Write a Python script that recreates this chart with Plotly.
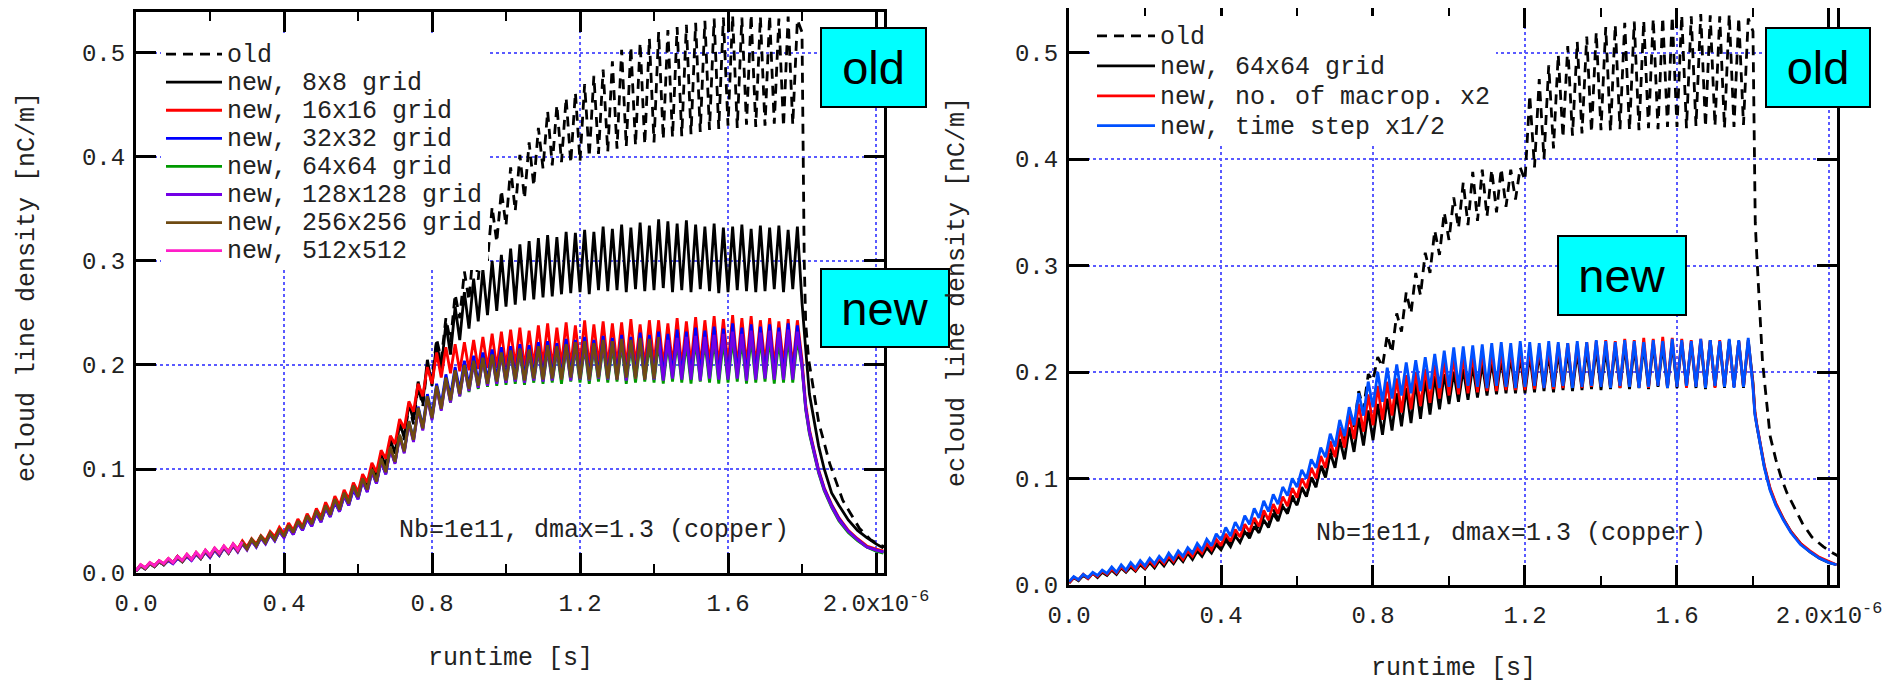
import plotly.graph_objects as go

# ---------------- data ----------------
BUNCH_SPACING_US = 0.025   # 25 ns bunch spacing, values are per bunch (72 bunches)
HALF_US = 0.0125

# tail after the bunch train (time in microseconds)
TAIL_T = [1.80, 1.805, 1.81, 1.82, 1.83, 1.845, 1.86, 1.88, 1.90, 1.925, 1.95, 1.975, 2.0, 2.02]
OLD_TAIL_T = [1.80, 1.803, 1.806, 1.81, 1.818, 1.825, 1.835, 1.845, 1.86, 1.875, 1.89, 1.91, 1.93, 1.955, 1.985, 2.01, 2.025]

# ----- left panel -----
L_old_lo = [0.002, 0.005, 0.007, 0.008, 0.010, 0.011, 0.013, 0.014, 0.016, 0.018, 0.020, 0.022,
            0.024, 0.027, 0.030, 0.033, 0.036, 0.039, 0.043, 0.047, 0.052, 0.057, 0.062, 0.068,
            0.075, 0.083, 0.092, 0.103, 0.115, 0.128, 0.143, 0.160, 0.185, 0.205, 0.222, 0.245,
            0.262, 0.282, 0.300, 0.318, 0.334, 0.348, 0.360, 0.372, 0.389, 0.392, 0.395, 0.394,
            0.396, 0.400, 0.403, 0.405, 0.408, 0.410, 0.411, 0.412, 0.414, 0.417, 0.419, 0.420,
            0.422, 0.424, 0.426, 0.427, 0.430, 0.428, 0.431, 0.429, 0.430, 0.432, 0.429, 0.431]
L_old_hi = [0.007, 0.009, 0.011, 0.013, 0.016, 0.017, 0.019, 0.021, 0.023, 0.025, 0.027, 0.030,
            0.032, 0.035, 0.038, 0.042, 0.046, 0.050, 0.055, 0.060, 0.065, 0.071, 0.077, 0.084,
            0.092, 0.102, 0.113, 0.128, 0.145, 0.162, 0.180, 0.200, 0.225, 0.245, 0.268, 0.290,
            0.315, 0.335, 0.352, 0.368, 0.390, 0.402, 0.414, 0.428, 0.444, 0.450, 0.457, 0.462,
            0.470, 0.478, 0.484, 0.492, 0.503, 0.506, 0.510, 0.514, 0.520, 0.522, 0.525, 0.527,
            0.529, 0.531, 0.533, 0.534, 0.536, 0.534, 0.537, 0.535, 0.536, 0.533, 0.535, 0.532]
L_old_tail = [0.52, 0.40, 0.30, 0.24, 0.205, 0.19, 0.165, 0.145, 0.125, 0.105, 0.09, 0.07,
              0.058, 0.043, 0.032, 0.027, 0.025]

L8_lo = [0.002, 0.005, 0.007, 0.008, 0.010, 0.011, 0.013, 0.014, 0.016, 0.018, 0.020, 0.022,
         0.024, 0.027, 0.030, 0.033, 0.036, 0.039, 0.043, 0.047, 0.052, 0.057, 0.062, 0.068,
         0.075, 0.083, 0.092, 0.103, 0.115, 0.130, 0.147, 0.164, 0.180, 0.196, 0.210, 0.224,
         0.235, 0.242, 0.248, 0.252, 0.256, 0.258, 0.262, 0.263, 0.265, 0.266, 0.268, 0.269,
         0.270, 0.268, 0.272, 0.271, 0.272, 0.270, 0.273, 0.271, 0.272, 0.274, 0.270, 0.272,
         0.270, 0.273, 0.271, 0.269, 0.270, 0.272, 0.271, 0.270, 0.271, 0.273, 0.270, 0.273]
L8_hi = [0.007, 0.009, 0.011, 0.013, 0.016, 0.017, 0.019, 0.021, 0.023, 0.025, 0.027, 0.030,
         0.032, 0.035, 0.038, 0.042, 0.046, 0.050, 0.055, 0.060, 0.065, 0.071, 0.077, 0.084,
         0.092, 0.102, 0.113, 0.128, 0.145, 0.163, 0.184, 0.205, 0.222, 0.240, 0.256, 0.270,
         0.283, 0.292, 0.300, 0.306, 0.312, 0.316, 0.319, 0.322, 0.325, 0.323, 0.328, 0.327,
         0.330, 0.328, 0.333, 0.331, 0.335, 0.332, 0.337, 0.334, 0.340, 0.338, 0.336, 0.339,
         0.335, 0.333, 0.336, 0.332, 0.333, 0.335, 0.331, 0.334, 0.332, 0.334, 0.330, 0.333]
L8_tail = [0.260, 0.235, 0.215, 0.172, 0.152, 0.122, 0.100, 0.077, 0.065, 0.051, 0.041, 0.034, 0.028, 0.024]

L16_lo = [0.002, 0.005, 0.007, 0.009, 0.010, 0.012, 0.013, 0.015, 0.017, 0.019, 0.021, 0.023,
          0.025, 0.028, 0.031, 0.035, 0.038, 0.041, 0.045, 0.049, 0.054, 0.059, 0.065, 0.071,
          0.078, 0.087, 0.097, 0.110, 0.124, 0.139, 0.155, 0.170, 0.182, 0.188, 0.192, 0.194,
          0.195, 0.196, 0.197, 0.197, 0.198, 0.199, 0.197, 0.199, 0.200, 0.198, 0.200, 0.199,
          0.200, 0.198, 0.201, 0.199, 0.200, 0.198, 0.200, 0.199, 0.201, 0.199, 0.200, 0.198,
          0.200, 0.199, 0.201, 0.199, 0.200, 0.198, 0.200, 0.199, 0.201, 0.199, 0.200, 0.198]
L16_hi = [0.008, 0.010, 0.012, 0.014, 0.016, 0.018, 0.020, 0.022, 0.024, 0.026, 0.028, 0.031,
          0.033, 0.036, 0.040, 0.044, 0.048, 0.052, 0.057, 0.062, 0.068, 0.074, 0.080, 0.087,
          0.095, 0.106, 0.118, 0.132, 0.148, 0.165, 0.182, 0.198, 0.212, 0.217, 0.220, 0.222,
          0.224, 0.227, 0.230, 0.232, 0.234, 0.236, 0.233, 0.238, 0.240, 0.236, 0.241, 0.238,
          0.243, 0.239, 0.242, 0.240, 0.241, 0.244, 0.239, 0.243, 0.243, 0.240, 0.245, 0.242,
          0.246, 0.243, 0.247, 0.244, 0.248, 0.245, 0.247, 0.243, 0.245, 0.242, 0.244, 0.243]
L16_tail = [0.205, 0.180, 0.162, 0.138, 0.122, 0.099, 0.082, 0.066, 0.053, 0.041, 0.033, 0.026, 0.023, 0.021]

L32_lo = [0.002, 0.004, 0.006, 0.008, 0.009, 0.011, 0.012, 0.014, 0.015, 0.017, 0.019, 0.021,
          0.023, 0.025, 0.028, 0.031, 0.034, 0.037, 0.041, 0.045, 0.049, 0.054, 0.059, 0.065,
          0.071, 0.078, 0.086, 0.095, 0.106, 0.117, 0.129, 0.141, 0.152, 0.162, 0.170, 0.176,
          0.180, 0.183, 0.185, 0.187, 0.188, 0.189, 0.188, 0.190, 0.189, 0.190, 0.189, 0.191,
          0.190, 0.189, 0.191, 0.190, 0.191, 0.189, 0.190, 0.191, 0.190, 0.189, 0.191, 0.190,
          0.189, 0.191, 0.190, 0.189, 0.190, 0.191, 0.189, 0.190, 0.191, 0.189, 0.190, 0.190]
L32_hi = [0.007, 0.009, 0.011, 0.012, 0.014, 0.016, 0.018, 0.020, 0.022, 0.024, 0.026, 0.028,
          0.031, 0.034, 0.037, 0.040, 0.044, 0.048, 0.052, 0.057, 0.062, 0.068, 0.074, 0.080,
          0.088, 0.097, 0.107, 0.119, 0.132, 0.146, 0.160, 0.172, 0.182, 0.191, 0.198, 0.204,
          0.209, 0.212, 0.215, 0.217, 0.218, 0.220, 0.219, 0.222, 0.223, 0.221, 0.225, 0.224,
          0.227, 0.224, 0.228, 0.226, 0.229, 0.227, 0.231, 0.229, 0.232, 0.230, 0.234, 0.232,
          0.236, 0.233, 0.237, 0.235, 0.240, 0.236, 0.239, 0.237, 0.239, 0.236, 0.240, 0.238]
L32_tail = [0.200, 0.177, 0.159, 0.136, 0.121, 0.098, 0.081, 0.065, 0.052, 0.040, 0.032, 0.025, 0.022, 0.020]

L64_lo = [0.002, 0.004, 0.006, 0.008, 0.010, 0.011, 0.013, 0.014, 0.016, 0.017, 0.019, 0.021,
          0.023, 0.026, 0.029, 0.032, 0.035, 0.038, 0.042, 0.046, 0.050, 0.055, 0.060, 0.066,
          0.072, 0.079, 0.087, 0.096, 0.106, 0.116, 0.127, 0.138, 0.148, 0.157, 0.164, 0.170,
          0.174, 0.177, 0.179, 0.180, 0.181, 0.182, 0.181, 0.183, 0.182, 0.183, 0.182, 0.184,
          0.183, 0.182, 0.184, 0.183, 0.184, 0.182, 0.183, 0.184, 0.183, 0.182, 0.184, 0.183,
          0.182, 0.184, 0.183, 0.182, 0.183, 0.184, 0.182, 0.183, 0.184, 0.182, 0.183, 0.183]
L64_hi = [0.007, 0.009, 0.011, 0.013, 0.015, 0.017, 0.019, 0.021, 0.023, 0.025, 0.027, 0.029,
          0.032, 0.035, 0.038, 0.041, 0.045, 0.049, 0.054, 0.059, 0.064, 0.070, 0.076, 0.083,
          0.090, 0.099, 0.109, 0.120, 0.132, 0.145, 0.158, 0.169, 0.179, 0.187, 0.194, 0.199,
          0.203, 0.206, 0.209, 0.211, 0.212, 0.213, 0.212, 0.214, 0.215, 0.214, 0.216, 0.215,
          0.217, 0.216, 0.218, 0.217, 0.219, 0.218, 0.220, 0.219, 0.221, 0.220, 0.222, 0.221,
          0.223, 0.222, 0.224, 0.223, 0.225, 0.224, 0.226, 0.225, 0.226, 0.224, 0.226, 0.225]
L64_tail = [0.198, 0.174, 0.157, 0.134, 0.118, 0.096, 0.079, 0.063, 0.050, 0.039, 0.031, 0.025, 0.021, 0.019]

L128_lo = [0.002, 0.004, 0.006, 0.008, 0.009, 0.011, 0.012, 0.014, 0.015, 0.017, 0.019, 0.020,
           0.022, 0.025, 0.028, 0.031, 0.034, 0.037, 0.041, 0.045, 0.049, 0.054, 0.059, 0.065,
           0.071, 0.078, 0.086, 0.095, 0.105, 0.115, 0.126, 0.137, 0.147, 0.156, 0.164, 0.170,
           0.175, 0.178, 0.180, 0.182, 0.183, 0.184, 0.183, 0.185, 0.184, 0.185, 0.186, 0.185,
           0.186, 0.185, 0.187, 0.186, 0.186, 0.185, 0.187, 0.186, 0.186, 0.185, 0.187, 0.186,
           0.186, 0.185, 0.187, 0.186, 0.186, 0.187, 0.185, 0.186, 0.187, 0.186, 0.186, 0.186]
L128_hi = [0.007, 0.009, 0.011, 0.012, 0.014, 0.016, 0.018, 0.020, 0.022, 0.024, 0.026, 0.028,
           0.031, 0.034, 0.037, 0.040, 0.044, 0.048, 0.053, 0.058, 0.063, 0.069, 0.075, 0.082,
           0.089, 0.098, 0.108, 0.119, 0.131, 0.144, 0.157, 0.168, 0.178, 0.186, 0.193, 0.198,
           0.202, 0.205, 0.208, 0.210, 0.212, 0.214, 0.213, 0.215, 0.216, 0.215, 0.217, 0.218,
           0.219, 0.218, 0.220, 0.221, 0.222, 0.221, 0.223, 0.224, 0.225, 0.224, 0.226, 0.227,
           0.228, 0.227, 0.229, 0.230, 0.232, 0.230, 0.233, 0.231, 0.233, 0.232, 0.234, 0.232]
L128_tail = [0.198, 0.175, 0.158, 0.135, 0.120, 0.097, 0.080, 0.064, 0.051, 0.040, 0.032, 0.025, 0.022, 0.020]

# 256x256 run stops at ~1.4 us
L256_lo = [0.002, 0.004, 0.006, 0.008, 0.010, 0.011, 0.013, 0.014, 0.016, 0.018, 0.019, 0.021,
           0.023, 0.026, 0.029, 0.032, 0.035, 0.039, 0.043, 0.047, 0.051, 0.056, 0.061, 0.067,
           0.073, 0.080, 0.088, 0.097, 0.107, 0.117, 0.128, 0.139, 0.149, 0.158, 0.166, 0.172,
           0.177, 0.180, 0.182, 0.184, 0.185, 0.186, 0.185, 0.187, 0.186, 0.187, 0.186, 0.188,
           0.187, 0.186, 0.188, 0.187, 0.186, 0.188, 0.187, 0.186, 0.187]
L256_hi = [0.007, 0.009, 0.011, 0.013, 0.015, 0.017, 0.019, 0.021, 0.023, 0.025, 0.027, 0.029,
           0.032, 0.035, 0.038, 0.042, 0.046, 0.050, 0.055, 0.060, 0.065, 0.071, 0.077, 0.084,
           0.091, 0.100, 0.110, 0.121, 0.133, 0.146, 0.159, 0.170, 0.180, 0.188, 0.195, 0.200,
           0.204, 0.207, 0.210, 0.212, 0.214, 0.216, 0.215, 0.218, 0.219, 0.218, 0.220, 0.222,
           0.223, 0.221, 0.224, 0.223, 0.225, 0.224, 0.226, 0.225, 0.227]

# 512x512 run stops at ~0.28 us
L512_lo = [0.002, 0.005, 0.007, 0.009, 0.010, 0.012, 0.013, 0.015, 0.017, 0.019, 0.020, 0.022]
L512_hi = [0.008, 0.010, 0.012, 0.014, 0.016, 0.018, 0.020, 0.022, 0.024, 0.026, 0.028, 0.030]

# ----- right panel -----
R_old_lo = [0.002, 0.005, 0.007, 0.008, 0.010, 0.011, 0.013, 0.014, 0.016, 0.018, 0.020, 0.022,
            0.024, 0.027, 0.030, 0.033, 0.036, 0.039, 0.043, 0.047, 0.052, 0.057, 0.062, 0.068,
            0.075, 0.083, 0.092, 0.103, 0.118, 0.132, 0.148, 0.165, 0.192, 0.205, 0.218, 0.238,
            0.255, 0.272, 0.293, 0.310, 0.324, 0.335, 0.338, 0.342, 0.346, 0.350, 0.355, 0.362,
            0.380, 0.392, 0.400, 0.410, 0.420, 0.422, 0.424, 0.425, 0.427, 0.426, 0.428, 0.427,
            0.427, 0.429, 0.428, 0.430, 0.430, 0.429, 0.431, 0.430, 0.431, 0.429, 0.430, 0.432]
R_old_hi = [0.007, 0.009, 0.011, 0.013, 0.016, 0.017, 0.019, 0.021, 0.023, 0.025, 0.027, 0.030,
            0.032, 0.035, 0.038, 0.042, 0.046, 0.050, 0.055, 0.060, 0.065, 0.071, 0.077, 0.084,
            0.092, 0.102, 0.113, 0.128, 0.148, 0.165, 0.182, 0.198, 0.214, 0.235, 0.255, 0.275,
            0.293, 0.312, 0.333, 0.350, 0.364, 0.378, 0.388, 0.390, 0.390, 0.391, 0.390, 0.392,
            0.460, 0.475, 0.488, 0.498, 0.506, 0.510, 0.515, 0.519, 0.524, 0.526, 0.528, 0.529,
            0.530, 0.532, 0.533, 0.534, 0.535, 0.534, 0.536, 0.535, 0.534, 0.536, 0.533, 0.532]
R_old_tail = [0.52, 0.40, 0.34, 0.31, 0.25, 0.21, 0.175, 0.14, 0.118, 0.10, 0.086, 0.072,
              0.058, 0.045, 0.036, 0.030, 0.027]

R64_lo = [0.002, 0.004, 0.006, 0.007, 0.009, 0.010, 0.012, 0.013, 0.015, 0.016, 0.018, 0.020,
          0.022, 0.024, 0.027, 0.030, 0.033, 0.036, 0.040, 0.044, 0.049, 0.054, 0.060, 0.067,
          0.075, 0.083, 0.092, 0.101, 0.110, 0.118, 0.125, 0.131, 0.136, 0.141, 0.145, 0.149,
          0.152, 0.156, 0.160, 0.165, 0.170, 0.172, 0.174, 0.176, 0.178, 0.179, 0.180, 0.180,
          0.180, 0.181, 0.182, 0.181, 0.183, 0.182, 0.183, 0.184, 0.183, 0.184, 0.185, 0.184,
          0.185, 0.184, 0.186, 0.185, 0.185, 0.186, 0.185, 0.184, 0.186, 0.185, 0.186, 0.185]
R64_hi = [0.007, 0.009, 0.011, 0.012, 0.014, 0.016, 0.017, 0.019, 0.021, 0.023, 0.025, 0.027,
          0.030, 0.032, 0.035, 0.038, 0.042, 0.046, 0.050, 0.055, 0.061, 0.067, 0.074, 0.082,
          0.091, 0.101, 0.112, 0.124, 0.137, 0.148, 0.157, 0.164, 0.170, 0.175, 0.180, 0.185,
          0.190, 0.193, 0.196, 0.198, 0.200, 0.203, 0.206, 0.208, 0.210, 0.212, 0.214, 0.215,
          0.216, 0.218, 0.217, 0.219, 0.220, 0.219, 0.221, 0.222, 0.221, 0.223, 0.224, 0.223,
          0.225, 0.226, 0.225, 0.227, 0.228, 0.227, 0.229, 0.230, 0.228, 0.230, 0.229, 0.230]
R64_tail = [0.190, 0.162, 0.150, 0.131, 0.111, 0.090, 0.076, 0.062, 0.050, 0.039, 0.031, 0.025, 0.021, 0.019]

Rmac_lo = [0.002, 0.005, 0.006, 0.008, 0.010, 0.011, 0.013, 0.014, 0.016, 0.018, 0.020, 0.022,
           0.024, 0.027, 0.030, 0.033, 0.037, 0.041, 0.045, 0.050, 0.055, 0.061, 0.067, 0.074,
           0.082, 0.091, 0.100, 0.110, 0.120, 0.129, 0.137, 0.144, 0.150, 0.155, 0.159, 0.162,
           0.165, 0.168, 0.171, 0.175, 0.178, 0.179, 0.180, 0.181, 0.182, 0.182, 0.183, 0.183,
           0.183, 0.184, 0.185, 0.184, 0.185, 0.186, 0.185, 0.186, 0.187, 0.186, 0.185, 0.187,
           0.186, 0.185, 0.187, 0.186, 0.186, 0.185, 0.187, 0.186, 0.185, 0.187, 0.186, 0.186]
Rmac_hi = [0.007, 0.010, 0.011, 0.013, 0.015, 0.017, 0.019, 0.021, 0.023, 0.025, 0.027, 0.030,
           0.032, 0.035, 0.039, 0.043, 0.048, 0.052, 0.057, 0.063, 0.070, 0.076, 0.083, 0.091,
           0.100, 0.110, 0.121, 0.135, 0.148, 0.160, 0.170, 0.179, 0.187, 0.191, 0.194, 0.197,
           0.200, 0.203, 0.207, 0.210, 0.213, 0.215, 0.216, 0.218, 0.219, 0.220, 0.221, 0.221,
           0.222, 0.224, 0.223, 0.226, 0.227, 0.226, 0.228, 0.229, 0.230, 0.229, 0.231, 0.230,
           0.232, 0.231, 0.233, 0.232, 0.231, 0.230, 0.231, 0.229, 0.230, 0.228, 0.229, 0.228]
Rmac_tail = [0.188, 0.163, 0.151, 0.132, 0.112, 0.091, 0.077, 0.062, 0.050, 0.039, 0.032, 0.026, 0.022, 0.019]

Rts_lo = [0.003, 0.005, 0.007, 0.009, 0.011, 0.012, 0.014, 0.016, 0.018, 0.020, 0.022, 0.024,
          0.027, 0.030, 0.033, 0.037, 0.042, 0.046, 0.051, 0.057, 0.063, 0.069, 0.076, 0.084,
          0.092, 0.100, 0.110, 0.120, 0.130, 0.140, 0.150, 0.159, 0.167, 0.172, 0.175, 0.178,
          0.180, 0.182, 0.184, 0.185, 0.186, 0.185, 0.187, 0.186, 0.185, 0.187, 0.186, 0.185,
          0.186, 0.187, 0.185, 0.186, 0.187, 0.185, 0.186, 0.187, 0.186, 0.185, 0.187, 0.186,
          0.185, 0.186, 0.187, 0.185, 0.186, 0.187, 0.186, 0.185, 0.187, 0.186, 0.185, 0.186]
Rts_hi = [0.008, 0.010, 0.012, 0.014, 0.017, 0.019, 0.021, 0.023, 0.025, 0.027, 0.030, 0.032,
          0.035, 0.039, 0.043, 0.048, 0.054, 0.059, 0.065, 0.072, 0.079, 0.085, 0.092, 0.100,
          0.108, 0.118, 0.129, 0.142, 0.155, 0.167, 0.180, 0.191, 0.200, 0.204, 0.207, 0.209,
          0.211, 0.214, 0.217, 0.220, 0.223, 0.224, 0.225, 0.226, 0.227, 0.228, 0.227, 0.229,
          0.228, 0.227, 0.229, 0.228, 0.227, 0.229, 0.228, 0.230, 0.229, 0.228, 0.230, 0.229,
          0.228, 0.230, 0.229, 0.231, 0.230, 0.229, 0.231, 0.230, 0.229, 0.231, 0.230, 0.232]
Rts_tail = [0.185, 0.160, 0.150, 0.130, 0.110, 0.089, 0.075, 0.061, 0.049, 0.038, 0.031, 0.025, 0.021, 0.019]

X_TICKS_US = [0.0, 0.4, 0.8, 1.2, 1.6, 2.0]
X_TICK_TEXT = ["0.0", "0.4", "0.8", "1.2", "1.6", "2.0x10<sup>-6</sup>"]
Y_TICKS = [0.0, 0.1, 0.2, 0.3, 0.4, 0.5]

# ---------------- helpers ----------------
PAGE_OFF = 8            # default body margin of the written html page
W, H = 1899 - PAGE_OFF, 683 - PAGE_OFF
MONO = "Liberation Mono, Courier New, monospace"
SANS = "Liberation Sans, Arial, sans-serif"


def px_x(p):
    return (p - PAGE_OFF) / W


def px_y(p):
    return 1 - (p - PAGE_OFF) / H


def sawtooth(lo, hi, tail_t=None, tail_v=None):
    assert len(lo) == len(hi), (len(lo), len(hi))
    xs, ys = [], []
    for k, (a, b) in enumerate(zip(lo, hi)):
        t = k * BUNCH_SPACING_US
        xs += [t, t + HALF_US]
        ys += [a, b]
    if tail_t is not None:
        assert len(tail_t) == len(tail_v), (len(tail_t), len(tail_v))
        xs += list(tail_t)
        ys += list(tail_v)
    return [x * 1e-6 for x in xs], ys


def leg(txt):
    return f'<span style="font-size:25px">{txt}</span>'


fig = go.Figure()

left = [
    ("old", L_old_lo, L_old_hi, OLD_TAIL_T, L_old_tail, "black", "dash"),
    ("new, 8x8 grid", L8_lo, L8_hi, TAIL_T, L8_tail, "black", "solid"),
    ("new, 16x16 grid", L16_lo, L16_hi, TAIL_T, L16_tail, "#FF0000", "solid"),
    ("new, 32x32 grid", L32_lo, L32_hi, TAIL_T, L32_tail, "#0000FF", "solid"),
    ("new, 64x64 grid", L64_lo, L64_hi, TAIL_T, L64_tail, "#009900", "solid"),
    ("new, 128x128 grid", L128_lo, L128_hi, TAIL_T, L128_tail, "#7300E6", "solid"),
    ("new, 256x256 grid", L256_lo, L256_hi, None, None, "#6E4A12", "solid"),
    ("new, 512x512", L512_lo, L512_hi, None, None, "#FF1EC8", "solid"),
]
for name, lo, hi, tt, tv, col, dash in left:
    x, y = sawtooth(lo, hi, tt, tv)
    fig.add_trace(go.Scatter(
        x=x, y=y, mode="lines", name=leg(name), line_shape="linear",
        line=dict(color=col, width=2.8, dash="10px,7px" if dash == "dash" else "solid"),
        xaxis="x", yaxis="y", legend="legend"))

right = [
    ("old", R_old_lo, R_old_hi, OLD_TAIL_T, R_old_tail, "black", "dash"),
    ("new, 64x64 grid", R64_lo, R64_hi, TAIL_T, R64_tail, "black", "solid"),
    ("new, no. of macrop. x2", Rmac_lo, Rmac_hi, TAIL_T, Rmac_tail, "#FF0000", "solid"),
    ("new, time step x1/2", Rts_lo, Rts_hi, TAIL_T, Rts_tail, "#0050FF", "solid"),
]
for name, lo, hi, tt, tv, col, dash in right:
    x, y = sawtooth(lo, hi, tt, tv)
    fig.add_trace(go.Scatter(
        x=x, y=y, mode="lines", name=leg(name), line_shape="linear",
        line=dict(color=col, width=2.8, dash="10px,7px" if dash == "dash" else "solid"),
        xaxis="x2", yaxis="y2", legend="legend2"))

GRID = "rgb(90,90,255)"


def xaxis(dom, anchor, rng):
    return dict(
        domain=dom, anchor=anchor, range=rng, automargin=False,
        showline=True, linecolor="black", linewidth=3, mirror="ticks",
        ticks="inside", ticklen=20, tickwidth=3, tickcolor="black",
        tickvals=[v * 1e-6 for v in X_TICKS_US], ticktext=X_TICK_TEXT,
        tickfont=dict(family=MONO, size=24, color="#222"),
        ticklabelstandoff=6,
        showgrid=True, gridcolor=GRID, griddash="dot", gridwidth=2,
        zeroline=False,
        minor=dict(dtick=0.2e-6, tick0=0, ticks="inside", ticklen=9, tickwidth=2,
                   tickcolor="black", showgrid=False),
    )


def yaxis(dom, anchor, rng):
    return dict(
        domain=dom, anchor=anchor, range=rng, automargin=False,
        showline=True, linecolor="black", linewidth=3, mirror="ticks",
        ticks="inside", ticklen=20, tickwidth=3, tickcolor="black",
        tickvals=Y_TICKS, tickformat=".1f",
        tickfont=dict(family=MONO, size=24, color="#222"),
        ticklabelstandoff=3,
        showgrid=True, gridcolor=GRID, griddash="dot", gridwidth=2,
        zeroline=False,
    )


L_X0, L_X1, L_Y0, L_Y1 = 136, 884, 12, 573
R_X0, R_X1, R_Y0, R_Y1 = 1069, 1837, 8, 585

fig.update_layout(
    width=W, height=H, autosize=False,
    margin=dict(l=0, r=0, t=0, b=0, pad=0, autoexpand=False),
    paper_bgcolor="white", plot_bgcolor="white",
    showlegend=True,
    xaxis=xaxis([px_x(L_X0), px_x(L_X1)], "y", [0, 2.0216e-6]),
    yaxis=yaxis([px_y(L_Y1), px_y(L_Y0)], "x", [0, 0.5394]),
    xaxis2=xaxis([px_x(R_X0), px_x(R_X1)], "y2", [0, 2.0211e-6]),
    yaxis2=yaxis([px_y(R_Y1), px_y(R_Y0)], "x2", [0, 0.5418]),
    legend=dict(x=px_x(161), y=px_y(35), xanchor="left", yanchor="top",
                bgcolor="white", borderwidth=0, itemwidth=56,
                font=dict(family=MONO, size=19.3, color="#222"), tracegroupgap=0),
    legend2=dict(x=px_x(1092), y=px_y(16), xanchor="left", yanchor="top",
                 bgcolor="white", borderwidth=0, itemwidth=58,
                 font=dict(family=MONO, size=20.7, color="#222"), tracegroupgap=0),
)

ann = []
# cyan labels
for (cx, cy, w, h, txt) in [(873.5, 67.75, 103, 77, "old"), (885, 307.75, 126, 76, "new"),
                            (1818, 67.75, 102, 77, "old"), (1622, 275.5, 126, 77, "new")]:
    ann.append(dict(x=px_x(cx), y=px_y(cy), xref="paper", yref="paper", text=txt,
                    showarrow=False, font=dict(family=SANS, size=47, color="black"),
                    bgcolor="#00FFFF", bordercolor="black", borderwidth=2, borderpad=0,
                    width=w, height=h, xanchor="center", yanchor="middle"))
# parameter note
ann.append(dict(x=1.770e-6, y=0.0404, xref="x", yref="y", text="Nb=1e11, dmax=1.3 (copper)",
                showarrow=False, xanchor="right", yanchor="middle",
                font=dict(family=MONO, size=25, color="#222")))
ann.append(dict(x=1.682e-6, y=0.0488, xref="x2", yref="y2", text="Nb=1e11, dmax=1.3 (copper)",
                showarrow=False, xanchor="right", yanchor="middle",
                font=dict(family=MONO, size=25, color="#222")))
# axis titles
for (cx, cy) in [(510, 658.5), (1453, 668)]:
    ann.append(dict(x=px_x(cx), y=px_y(cy), xref="paper", yref="paper", text="runtime [s]",
                    showarrow=False, xanchor="center", yanchor="middle",
                    font=dict(family=MONO, size=25, color="#222")))
for (cx, cy) in [(27, 287), (957, 292)]:
    ann.append(dict(x=px_x(cx), y=px_y(cy), xref="paper", yref="paper",
                    text="ecloud line density [nC/m]", textangle=-90,
                    showarrow=False, xanchor="center", yanchor="middle",
                    font=dict(family=MONO, size=25, color="#222")))
fig.update_layout(annotations=ann)

fig.write_html("out.html")
